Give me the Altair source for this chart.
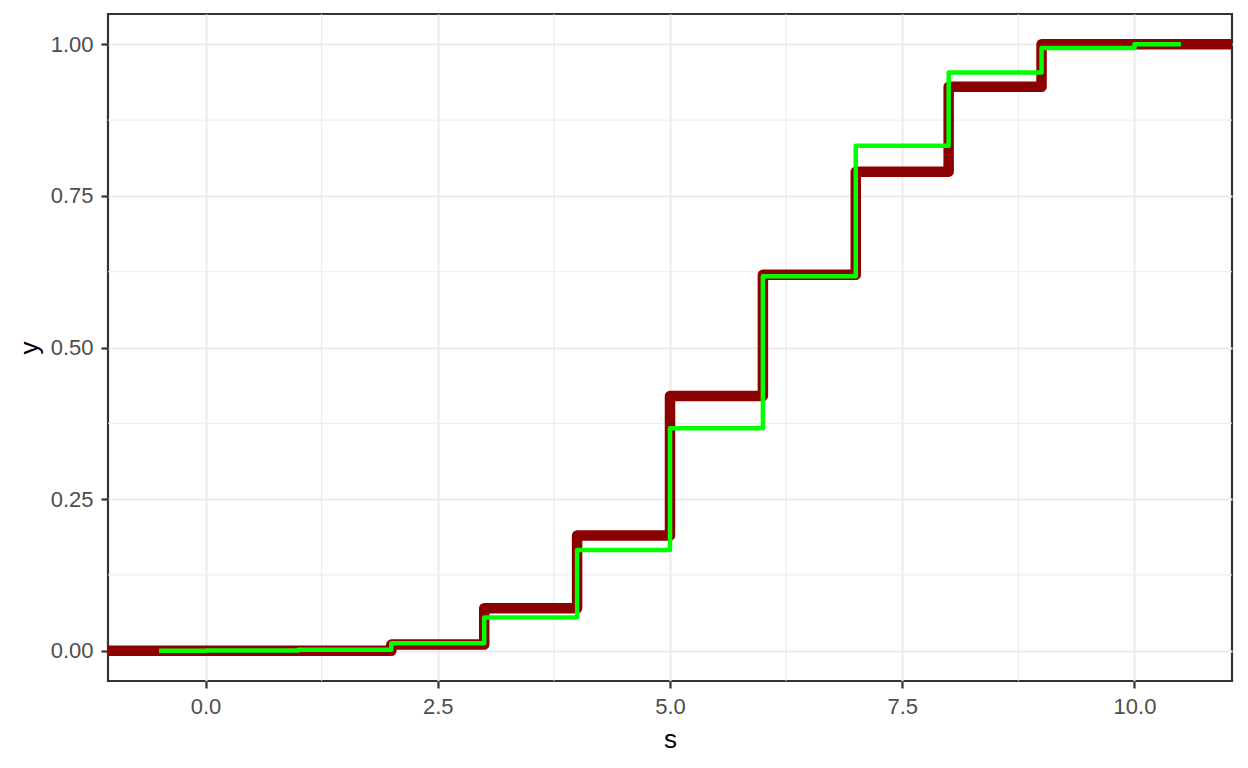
import altair as alt
import pandas as pd

# Empirical step function (dark red), padded to the panel edges
s_red = [-3, 2, 3, 4, 5, 6, 7, 8, 9, 14]
y_red = [0.0, 0.01, 0.07, 0.19, 0.42, 0.62, 0.79, 0.93, 1.0, 1.0]

# Theoretical step function (green)
s_grn = [-0.5, 0, 1, 2, 3, 4, 5, 6, 7, 8, 9, 10, 10.5]
y_grn = [0.0, 0.0001, 0.0017, 0.0123, 0.0548, 0.1662, 0.3669, 0.6177,
         0.8327, 0.9536, 0.9940, 1.0, 1.0]

x_ticks = [0, 2.5, 5, 7.5, 10]
y_ticks = [0, 0.25, 0.5, 0.75, 1.0]
x_minor = [1.25, 3.75, 6.25, 8.75]
y_minor = [0.125, 0.375, 0.625, 0.875]

df_red = pd.DataFrame({"s": s_red, "y": y_red})
df_grn = pd.DataFrame({"s": s_grn, "y": y_grn})
df_xm = pd.DataFrame({"s": x_minor})
df_ym = pd.DataFrame({"y": y_minor})

FONT = "Liberation Sans"

xscale = alt.Scale(domain=[-1.05, 11.05], nice=False, zero=False)
yscale = alt.Scale(domain=[-0.05, 1.05], nice=False, zero=False)

xaxis = alt.Axis(
    title="s", values=x_ticks, format=".1f",
    labelFontSize=22, labelColor="#4D4D4D", labelFont=FONT,
    labelBaseline="alphabetic", labelPadding=25,
    titleFontSize=26, titleColor="black", titleFont=FONT, titleFontWeight="normal",
    titleBaseline="alphabetic", titleX=562, titleY=66,
    tickSize=7, tickWidth=2.2, tickColor="#333333",
    domain=False, grid=True, gridColor="#EBEBEB", gridWidth=2,
)
yaxis = alt.Axis(
    title="y", values=y_ticks, format=".2f",
    labelFontSize=22, labelColor="#4D4D4D", labelFont=FONT, labelPadding=8,
    titleFontSize=26, titleColor="black", titleFont=FONT, titleFontWeight="normal",
    titleAngle=270, titleBaseline="alphabetic", titleX=-71, titleY=333.5,
    tickSize=7, tickWidth=2.2, tickColor="#333333",
    domain=False, grid=True, gridColor="#EBEBEB", gridWidth=2,
)

X = alt.X("s:Q", scale=xscale, axis=xaxis)
Y = alt.Y("y:Q", scale=yscale, axis=yaxis)

minor_x = alt.Chart(df_xm).mark_rule(color="#EBEBEB", strokeWidth=1).encode(x=X)
minor_y = alt.Chart(df_ym).mark_rule(color="#EBEBEB", strokeWidth=1).encode(y=Y)

red = alt.Chart(df_red).mark_line(
    interpolate="step-after", clip=True, strokeWidth=10.5,
    strokeJoin="round", strokeCap="butt", color="#8B0000",
).encode(x=X, y=Y)

grn = alt.Chart(df_grn).mark_line(
    interpolate="step-after", clip=True, strokeWidth=4.5,
    strokeJoin="round", strokeCap="butt", color="#00FF00",
).encode(x=X, y=Y)

chart = alt.layer(minor_x, minor_y, red, grn).properties(
    width=1124, height=667,
    autosize=alt.AutoSizeParams(type="none"),
    padding={"left": 100, "top": 6, "right": 8, "bottom": 80},
    background="white",
).configure_view(
    stroke="#333333", strokeWidth=2.2, fill="white",
)

chart.save("out.html", embed_options={"renderer": "svg", "actions": False})
